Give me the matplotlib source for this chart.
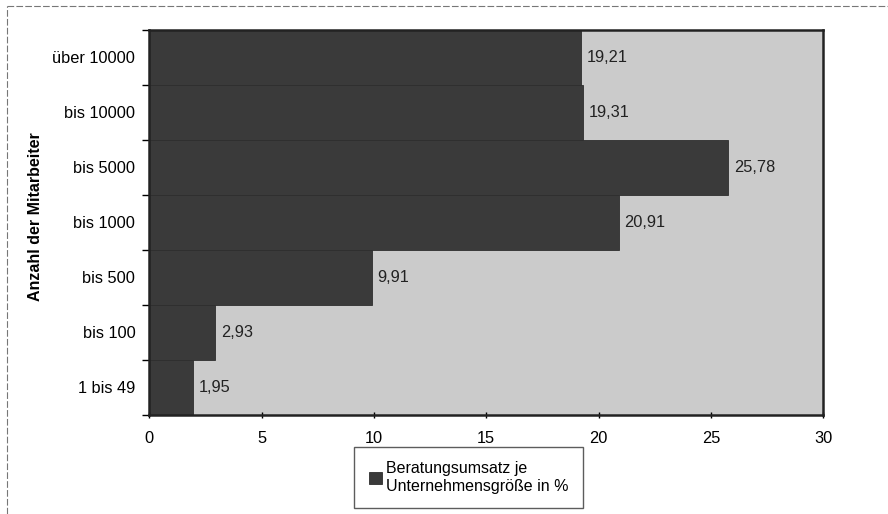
import matplotlib
matplotlib.use("Agg")
import matplotlib.pyplot as plt
from matplotlib.lines import Line2D

plt.rcParams['font.family'] = ['Liberation Sans', 'DejaVu Sans']

categories = ["1 bis 49", "bis 100", "bis 500", "bis 1000", "bis 5000", "bis 10000", "über 10000"]
values = [1.95, 2.93, 9.91, 20.91, 25.78, 19.31, 19.21]
value_labels = ["1,95", "2,93", "9,91", "20,91", "25,78", "19,31", "19,21"]
x_ticks = [0, 5, 10, 15, 20, 25, 30]
series_name = "Beratungsumsatz je\nUnternehmensgröße in %"
y_label = "Anzahl der Mitarbeiter"

fig = plt.figure(figsize=(8.88, 5.14), dpi=100)
fig.patch.set_facecolor("white")
ax = fig.add_axes([0.168, 0.193, 0.759, 0.749])
ax.set_facecolor("#cbcbcb")

ypos = list(range(len(categories)))
bars = ax.barh(ypos, values, height=1.0, color="#3a3a3a", edgecolor="#2e2e2e",
               linewidth=0.6, label=series_name)
for y, v, t in zip(ypos, values, value_labels):
    ax.text(v + 0.25, y, t, va="center", ha="left", fontsize=11.8, color="#222222")

ax.set_xlim(0, 30)
ax.set_ylim(-0.5, len(categories) - 0.5)
ax.set_xticks(x_ticks)
ax.set_xticklabels([str(t) for t in x_ticks], fontsize=11.8)
ax.set_yticks(ypos)
ax.set_yticklabels(categories, fontsize=11.8)
ax.set_yticks([i - 0.5 for i in range(len(categories) + 1)], minor=True)
ax.tick_params(axis="y", which="major", length=0, pad=10)
ax.tick_params(axis="y", which="minor", length=5, width=1, direction="out")
ax.tick_params(axis="x", which="major", length=5, width=1, direction="inout", pad=9)
for s in ax.spines.values():
    s.set_linewidth(1.8)
    s.set_color("#222222")

ax.set_ylabel(y_label, fontsize=11.5, fontweight="bold", labelpad=8)
ax.yaxis.set_label_coords(-0.158, 0.514)

leg = fig.legend(handles=[bars], labels=[series_name], loc="center",
                 bbox_to_anchor=(0.528, 0.071), fontsize=11.5, frameon=True,
                 fancybox=False, edgecolor="#333333", handlelength=0.8,
                 handleheight=0.8, handletextpad=0.3, borderpad=0.9)
leg.get_frame().set_linewidth(1.0)

fig.add_artist(Line2D([0.008, 1.0], [0.988, 0.988], transform=fig.transFigure,
                      color="#777777", linestyle=(0, (6, 2)), linewidth=0.8))
fig.add_artist(Line2D([0.008, 0.008], [0.0, 0.988], transform=fig.transFigure,
                      color="#777777", linestyle=(0, (6, 2)), linewidth=0.8))

fig.savefig("out.png", dpi=100)
